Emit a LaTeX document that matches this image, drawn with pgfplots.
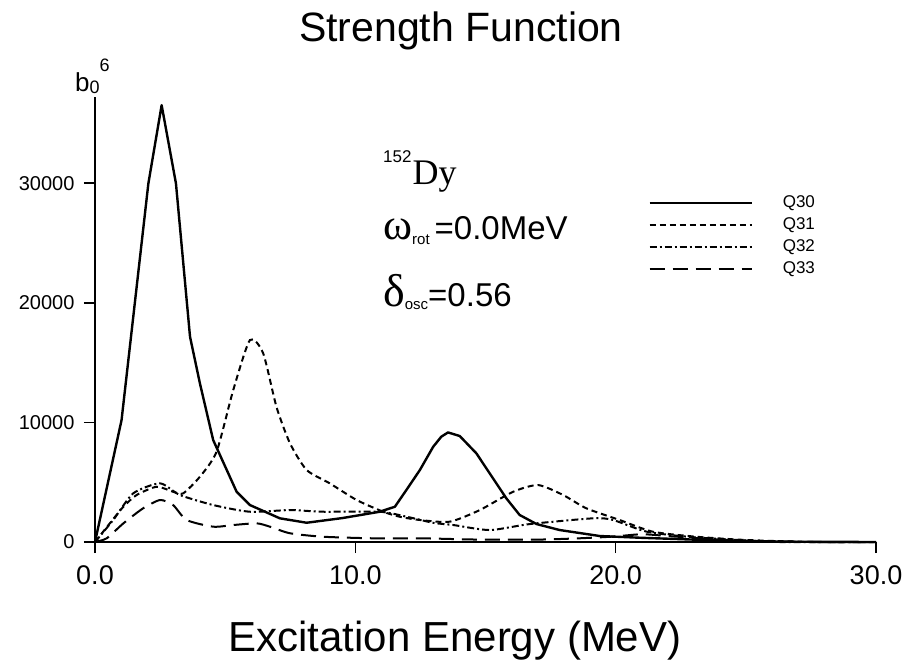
\documentclass[border=0pt]{standalone}
\usepackage{pgfplots}
\pgfplotsset{compat=1.18}
\usepackage{pgfplotstable}
\usepackage{fontspec}
\setmainfont{Liberation Sans}
\setsansfont{Liberation Sans}
\newfontfamily\serif{Liberation Serif}

% Strength functions of the octupole operators Q3K for 152Dy
\pgfplotstableread{
E S
0.00 0
1.02 10190
2.05 29970
2.56 36515
3.11 29970
3.65 17160
4.03 13260
4.54 8520
5.44 4200
5.95 3090
7.10 1980
8.13 1610
9.50 2000
10.94 2530
11.52 2950
11.96 4345
12.48 6020
12.99 7960
13.30 8800
13.56 9160
14.01 8860
14.65 7410
15.16 5740
15.80 3650
16.31 2260
16.96 1500
17.85 1000
19.39 500
21.00 350
23.00 200
25.00 80
27.00 20
30.00 0
}\qthirty

\pgfplotstableread{
E S
0.00 0
0.58 1590
1.09 2950
1.60 3930
2.37 4620
3.00 4200
3.39 4070
4.03 5460
4.67 7550
5.31 12700
5.95 16880
6.46 15770
6.97 11300
7.49 8250
8.13 6020
9.02 4900
10.05 3510
11.07 2530
11.71 2110
12.48 1840
13.63 1700
14.78 2670
16.06 4200
17.02 4760
17.98 3930
18.87 2820
20.15 1840
21.43 860
23.10 440
25.00 170
27.60 0
30.00 0
}\qthirtyone

\pgfplotstableread{
E S
0.00 0
0.70 1840
1.47 4070
2.50 4900
3.26 3930
4.54 3090
5.95 2530
7.49 2670
8.76 2530
10.94 2530
12.00 2100
13.00 1600
13.76 1420
15.16 1000
16.70 1500
19.13 1980
19.90 1840
21.20 860
23.00 400
26.30 0
30.00 0
}\qthirtytwo

\pgfplotstableread{
E S
0.00 0
0.45 310
1.09 1560
1.85 2820
2.50 3510
3.00 3090
3.52 1840
4.54 1280
5.31 1420
6.21 1560
6.72 1280
7.49 730
8.76 440
10.68 310
12.48 310
14.78 200
17.00 200
18.50 300
19.90 450
21.00 650
22.00 500
24.00 200
26.00 50
28.00 0
30.00 0
}\qthirtythree

\begin{document}
\begin{tikzpicture}[x=1pt,y=1pt]
\useasboundingbox (0,0) rectangle (909,659);
\begin{axis}[
  at={(95pt,117pt)}, anchor=south west,
  scale only axis, width=781pt, height=445pt,
  xmin=0, xmax=30, ymin=0, ymax=37200,
  axis x line=bottom, axis y line=left,
  axis line style={-, line width=1.8pt},
  xtick={0,10,20,30}, xticklabels={0.0,10.0,20.0,30.0},
  ytick={0,10000,20000,30000}, yticklabels={0,10000,20000,30000},
  scaled y ticks=false,
  tick align=outside, major tick length=11pt,
  tick style={line width=1.5pt, black},
  x tick label style={font=\fontsize{27}{27}\selectfont, yshift=-9pt},
  y tick label style={font=\fontsize{20}{20}\selectfont, xshift=-6pt},
  clip=false,
  legend style={at={(axis cs:21.25,28960)}, anchor=north west, draw=none, fill=none,
    inner sep=0pt, font=\fontsize{17}{17}\selectfont, row sep=7pt,
    nodes={inner sep=0pt, text height=12pt, text depth=3pt},
    /tikz/every odd column/.append style={column sep=30pt}},
  legend cell align=left,
  legend image code/.code={\draw[#1] (0pt,0pt) -- (102pt,0pt);},
]
\addplot[black, line width=2.4pt, line join=round] table[x=E, y=S] {\qthirty};
\addlegendentry{Q30}
\addplot[black, line width=2pt, smooth, tension=0.4, dash pattern=on 6pt off 4pt] table[x=E, y=S] {\qthirtyone};
\addlegendentry{Q31}
\addplot[black, line width=2pt, smooth, tension=0.4, dash pattern=on 7pt off 3pt on 2pt off 3pt] table[x=E, y=S] {\qthirtytwo};
\addlegendentry{Q32}
\addplot[black, line width=2pt, smooth, tension=0.4, dash pattern=on 15pt off 8pt] table[x=E, y=S] {\qthirtythree};
\addlegendentry{Q33}
\end{axis}

\node[anchor=base, inner sep=0pt, font=\fontsize{41}{41}\selectfont] at (461,617) {Strength Function};
\node[anchor=base, inner sep=0pt, font=\fontsize{42}{42}\selectfont] at (455,8) {Excitation Energy (MeV)};
\node[anchor=base west, inner sep=0pt] at (75,567)
  {\fontsize{26}{26}\selectfont b\raisebox{-2pt}{\fontsize{18}{18}\selectfont 0}\raisebox{20pt}{\fontsize{18}{18}\selectfont 6}};
\node[anchor=base west, inner sep=0pt] at (383,474)
  {\raisebox{22pt}{\fontsize{17}{17}\selectfont 152}\hspace{1pt}{\serif\fontsize{36}{36}\selectfont Dy}};
\node[anchor=base west, inner sep=0pt] at (383,419)
  {{\serif\fontsize{44}{44}\selectfont ω}\raisebox{-5pt}{\fontsize{15}{15}\selectfont rot}\hspace{5pt}{\fontsize{33}{33}\selectfont =0.0MeV}};
\node[anchor=base west, inner sep=0pt] at (383,352)
  {{\serif\fontsize{46}{46}\selectfont δ}\raisebox{-3pt}{\fontsize{15}{15}\selectfont osc}{\fontsize{33}{33}\selectfont =0.56}};
\end{tikzpicture}
\end{document}
